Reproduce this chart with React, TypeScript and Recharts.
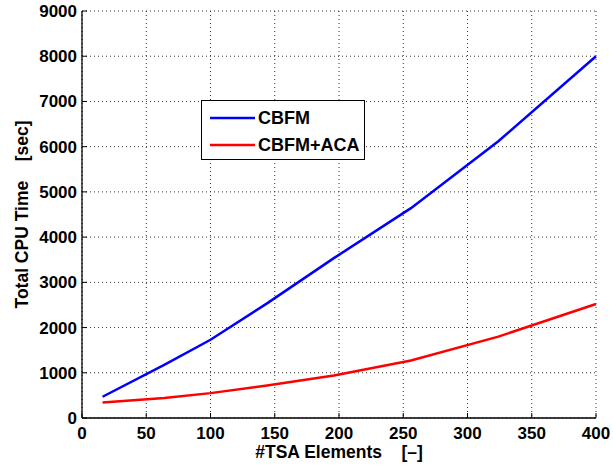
import React from 'react';
import { LineChart, Line, XAxis, YAxis, CartesianGrid, Legend } from 'recharts';

const tsaElements = [16, 64, 100, 144, 196, 256, 324, 400];
const cbfmTime = [470, 1175, 1730, 2535, 3535, 4640, 6120, 8000];
const cbfmAcaTime = [345, 440, 550, 720, 940, 1270, 1800, 2520];
const xTicks = [0, 50, 100, 150, 200, 250, 300, 350, 400];
const yTicks = [0, 1000, 2000, 3000, 4000, 5000, 6000, 7000, 8000, 9000];
const seriesNames = ['CBFM', 'CBFM+ACA'];
const seriesColors = ['#0000ff', '#ff0000'];
const xLabel = '#TSA Elements    [\u2013]';
const yLabel = 'Total CPU Time    [sec]';

const data = tsaElements.map((x, i) => ({ x, cbfm: cbfmTime[i], aca: cbfmAcaTime[i] }));

const FONT = '"Liberation Sans", Arial, Helvetica, sans-serif';
const tickStyle = { fontFamily: FONT, fontWeight: 700, fontSize: 17, fill: '#000' };

const renderLegend = () => (
  <div
    style={{
      position: 'relative',
      width: 164,
      height: 60,
      boxSizing: 'border-box',
      border: '1.5px solid #000',
      background: '#fff',
      fontFamily: FONT,
      fontWeight: 700,
      fontSize: 18,
    }}
  >
    {seriesNames.map((name, i) => (
      <div key={name} style={{ position: 'absolute', left: 0, top: i === 0 ? 17 : 43.5, height: 0 }}>
        <svg width={46} height={6} style={{ position: 'absolute', left: 8, top: -3 }}>
          <line x1={0} y1={3} x2={45} y2={3} stroke={seriesColors[i]} strokeWidth={2.5} />
        </svg>
        <span style={{ position: 'absolute', left: 56, top: -11, lineHeight: '22px', whiteSpace: 'nowrap', color: '#000' }}>
          {name}
        </span>
      </div>
    ))}
  </div>
);

const YLabelContent = (props: any) => {
  const vb = props.viewBox || {};
  const cx = vb.x + 22;
  const cy = vb.y + vb.height / 2;
  return (
    <text
      x={cx}
      y={cy}
      transform={`rotate(-90, ${cx}, ${cy})`}
      textAnchor="middle"
      dominantBaseline="central"
      style={{ whiteSpace: 'pre', fontFamily: FONT, fontWeight: 700, fontSize: 17.5 }}
      fill="#000"
    >
      {yLabel}
    </text>
  );
};

const XLabelContent = (props: any) => {
  const vb = props.viewBox || {};
  const cx = vb.x + vb.width / 2;
  const cy = vb.y + 40;
  return (
    <text
      x={cx}
      y={cy}
      textAnchor="middle"
      style={{ whiteSpace: 'pre', fontFamily: FONT, fontWeight: 700, fontSize: 17.5 }}
      fill="#000"
    >
      {xLabel}
    </text>
  );
};

export default function App() {
  return (
    <div style={{ position: 'absolute', left: 0, top: 0, width: 613, height: 467, background: '#fff' }}>
      <LineChart width={613} height={467} data={data} margin={{ top: 11, right: 17, bottom: 0, left: 0 }}>
        <CartesianGrid stroke="#333" strokeDasharray="1 3" strokeWidth={1} />
        <XAxis
          dataKey="x"
          type="number"
          domain={[0, 400]}
          ticks={xTicks}
          height={49}
          tickSize={-5}
          tickMargin={14}
          tick={tickStyle}
          stroke="#000"
          axisLine={{ stroke: '#000', strokeWidth: 1.3 }}
          tickLine={{ stroke: '#000' }}
          interval={0}
          label={<XLabelContent />}
        />
        <XAxis
          xAxisId="top"
          orientation="top"
          dataKey="x"
          type="number"
          domain={[0, 400]}
          ticks={xTicks}
          height={0}
          tickSize={-5}
          tickFormatter={() => ''}
          axisLine={{ stroke: '#000', strokeWidth: 1.3 }}
          tickLine={{ stroke: '#000' }}
          interval={0}
        />
        <YAxis
          type="number"
          domain={[0, 9000]}
          ticks={yTicks}
          width={82}
          tickSize={-5}
          tickMargin={10}
          tick={tickStyle}
          axisLine={{ stroke: '#000', strokeWidth: 1.3 }}
          tickLine={{ stroke: '#000' }}
          interval={0}
          label={<YLabelContent />}
        />
        <YAxis
          yAxisId="right"
          orientation="right"
          type="number"
          domain={[0, 9000]}
          ticks={yTicks}
          width={0}
          tickSize={-5}
          tickFormatter={() => ''}
          axisLine={{ stroke: '#000', strokeWidth: 1.3 }}
          tickLine={{ stroke: '#000' }}
          interval={0}
        />
        <Line type="linear" dataKey="cbfm" name={seriesNames[0]} stroke={seriesColors[0]} strokeWidth={2.5} dot={false} isAnimationActive={false} />
        <Line type="linear" dataKey="aca" name={seriesNames[1]} stroke={seriesColors[1]} strokeWidth={2.5} dot={false} isAnimationActive={false} />
        <Legend
          layout="vertical"
          align="center"
          verticalAlign="middle"
          content={renderLegend}
          wrapperStyle={{ position: 'absolute', left: 201, top: 100, width: 164, height: 60 }}
        />
      </LineChart>
    </div>
  );
}
